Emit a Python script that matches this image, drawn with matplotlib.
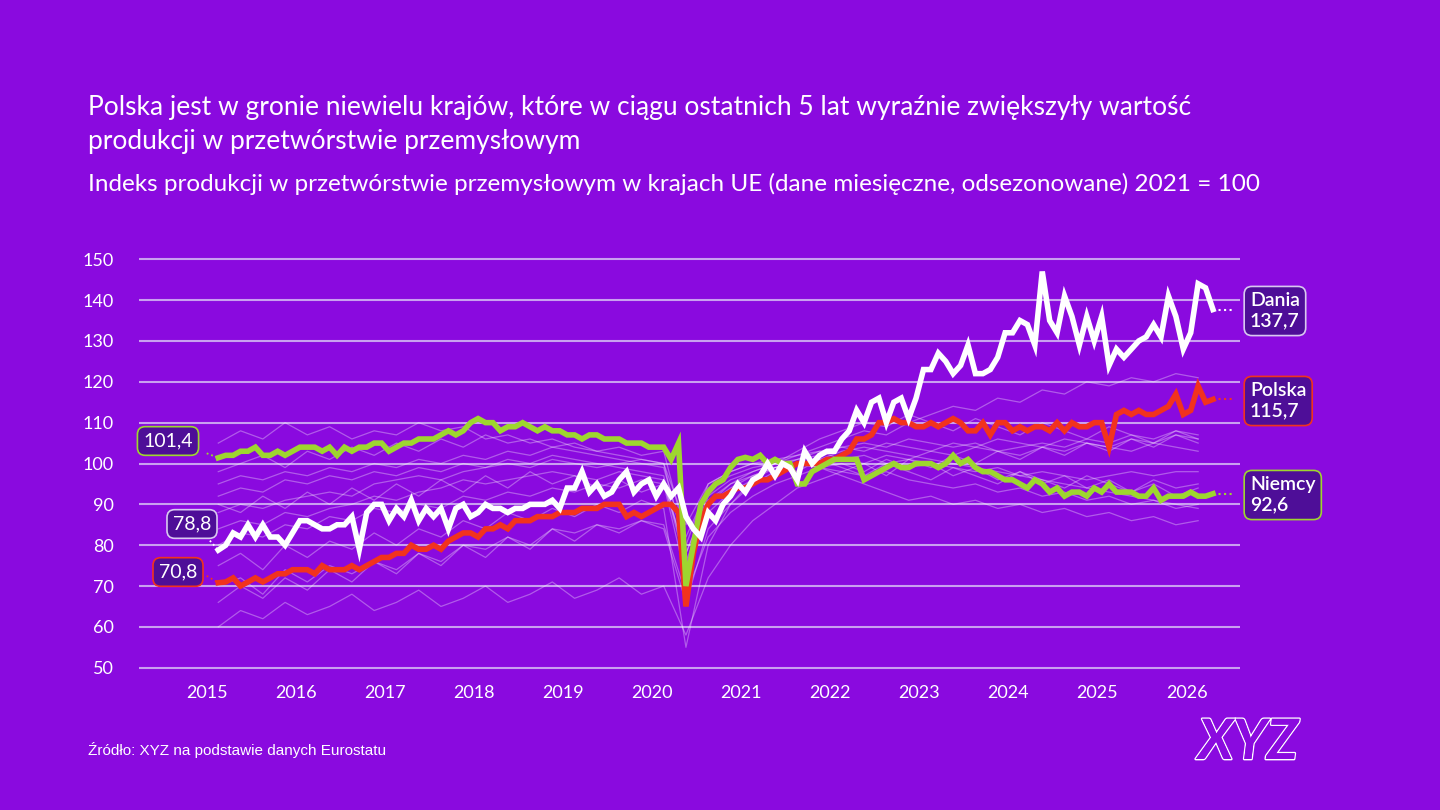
import numpy as np
import matplotlib.pyplot as plt
import matplotlib.patheffects as pe

plt.rcParams['font.family'] = ['Lato', 'DejaVu Sans']

BG = '#8A0ADF'
GRID = '#C9A0F0'
BOX = '#4E0E98'

# Monthly values, Jan 2015 - Mar 2026
dania = [78.8, 80, 83, 82, 85, 82, 85, 82, 82, 80, 83, 86,
         86, 85, 84, 84, 85, 85, 87, 79, 88, 90, 90, 86,
         89, 87, 91, 86, 89, 87, 89, 84, 89, 90, 87, 88,
         90, 89, 89, 88, 89, 89, 90, 90, 90, 91, 89, 94,
         94, 98, 93, 95, 92, 93, 96, 98, 93, 95, 96, 92,
         95, 92, 94, 87, 84, 82, 88, 86, 90, 92, 95, 93,
         96, 97, 100, 97, 100, 99, 96, 103, 100, 102, 103, 103,
         106, 108, 113, 110, 115, 116, 110, 115, 116, 111, 116, 123,
         123, 127, 125, 122, 124, 129, 122, 122, 123, 126, 132, 132,
         135, 134, 129, 147, 135, 132, 141, 136, 129, 136, 130, 136,
         124, 128, 126, 128, 130, 131, 134, 131, 141, 136, 128, 132,
         144, 143, 137.7]
polska = [70.8, 71, 72, 70, 71, 72, 71, 72, 73, 73, 74, 74,
          74, 73, 75, 74, 74, 74, 75, 74, 75, 76, 77, 77,
          78, 78, 80, 79, 79, 80, 79, 81, 82, 83, 83, 82,
          84, 84, 85, 84, 86, 86, 86, 87, 87, 87, 88, 88,
          88, 89, 89, 89, 90, 90, 90, 87, 88, 87, 88, 89,
          90, 90, 88, 65, 78, 86, 90, 92, 92, 93, 94, 94,
          95, 96, 96, 97, 98, 99, 100, 100, 100, 100, 101, 101,
          102, 103, 106, 106, 107, 110, 110, 111, 110, 110, 109, 109,
          110, 109, 110, 111, 110, 108, 108, 110, 107, 110, 110, 108,
          109, 108, 109, 109, 108, 110, 108, 110, 109, 109, 110, 110,
          104, 112, 113, 112, 113, 112, 112, 113, 114, 117, 112, 113,
          119, 115, 115.7]
niemcy = [101.4, 102, 102, 103, 103, 104, 102, 102, 103, 102, 103, 104,
          104, 104, 103, 104, 102, 104, 103, 104, 104, 105, 105, 103,
          104, 105, 105, 106, 106, 106, 107, 108, 107, 108, 110, 111,
          110, 110, 108, 109, 109, 110, 109, 108, 109, 108, 108, 107,
          107, 106, 107, 107, 106, 106, 106, 105, 105, 105, 104, 104,
          104, 101, 105, 70, 80, 90, 93, 95, 96, 99, 101, 101.5,
          101, 102, 100, 101, 100, 100, 95, 95, 98, 99, 100, 101,
          101, 101, 101, 96, 97, 98, 99, 100, 99, 99, 100, 100,
          100, 99, 100, 102, 100, 101, 99, 98, 98, 97, 96, 96,
          95, 94, 96, 95, 93, 94, 92, 93, 93, 92, 94, 93,
          95, 93, 93, 93, 92, 92, 94, 91, 92, 92, 92, 93,
          92, 92, 92.6]

# Other EU countries, quarterly (Q1 2015 - Q1 2026)
others = [
    [95, 97, 96, 98, 97, 99, 98, 100, 99, 101, 100, 102, 101, 103, 102, 104, 103, 102, 101, 100, 99, 80, 95, 98, 100, 101, 102, 103, 101, 102, 100, 101, 100, 99, 98, 99, 97, 98, 97, 96, 97, 98, 97, 98, 98],
    [88, 90, 89, 91, 92, 93, 92, 95, 96, 97, 96, 98, 99, 100, 99, 101, 100, 99, 100, 101, 100, 78, 92, 96, 98, 100, 101, 103, 104, 105, 104, 106, 105, 104, 105, 103, 104, 105, 104, 106, 105, 107, 106, 108, 107],
    [84, 86, 85, 88, 87, 89, 90, 92, 91, 93, 94, 96, 95, 96, 97, 98, 97, 96, 98, 97, 96, 75, 90, 95, 98, 100, 102, 104, 106, 108, 107, 110, 112, 114, 113, 116, 115, 118, 117, 120, 119, 121, 120, 122, 121],
    [105, 108, 106, 110, 107, 109, 106, 108, 107, 110, 108, 109, 106, 107, 105, 106, 104, 103, 102, 101, 100, 85, 95, 98, 100, 99, 100, 99, 98, 97, 98, 96, 95, 94, 95, 93, 94, 92, 93, 91, 92, 90, 91, 89, 90],
    [70, 72, 68, 74, 71, 75, 73, 76, 74, 78, 76, 80, 79, 82, 80, 84, 83, 85, 84, 86, 85, 68, 82, 88, 92, 95, 97, 99, 100, 98, 101, 99, 100, 97, 99, 96, 98, 95, 97, 94, 96, 93, 95, 92, 94],
    [60, 64, 62, 66, 63, 65, 68, 64, 66, 69, 65, 67, 70, 66, 68, 71, 67, 69, 72, 68, 70, 58, 72, 80, 86, 90, 94, 96, 98, 100, 97, 101, 99, 102, 100, 103, 101, 104, 102, 105, 103, 106, 104, 107, 105],
    [92, 94, 93, 96, 95, 97, 96, 98, 97, 99, 98, 100, 99, 101, 100, 102, 101, 100, 99, 98, 97, 76, 90, 94, 97, 99, 100, 101, 103, 104, 103, 102, 101, 100, 99, 98, 97, 96, 95, 94, 93, 92, 91, 90, 89],
    [80, 83, 82, 85, 84, 87, 86, 89, 88, 90, 89, 92, 91, 93, 92, 94, 93, 95, 94, 96, 95, 72, 88, 93, 96, 99, 101, 102, 104, 103, 105, 104, 103, 105, 104, 106, 105, 104, 106, 105, 104, 106, 105, 107, 106],
    [98, 100, 102, 99, 103, 101, 104, 102, 105, 103, 106, 104, 107, 105, 106, 104, 105, 103, 104, 102, 103, 82, 94, 97, 99, 100, 98, 101, 99, 97, 100, 98, 96, 99, 97, 95, 98, 96, 94, 97, 95, 93, 96, 94, 95],
    [75, 78, 74, 80, 77, 81, 79, 83, 80, 84, 82, 86, 84, 88, 86, 89, 87, 90, 88, 91, 89, 55, 80, 90, 96, 100, 103, 106, 108, 110, 109, 112, 110, 108, 111, 109, 107, 110, 108, 106, 109, 107, 105, 108, 106],
    [90, 88, 92, 89, 93, 90, 94, 91, 95, 92, 96, 93, 97, 94, 98, 95, 97, 94, 96, 93, 95, 78, 91, 95, 97, 99, 100, 99, 101, 100, 102, 101, 103, 102, 104, 103, 102, 104, 103, 105, 104, 103, 105, 104, 103],
    [66, 70, 67, 72, 69, 74, 71, 76, 73, 78, 75, 80, 77, 82, 79, 84, 81, 85, 83, 86, 84, 66, 84, 90, 95, 98, 100, 99, 97, 95, 93, 91, 92, 90, 91, 89, 90, 88, 89, 87, 88, 86, 87, 85, 86],
]

YEARS = list(range(2015, 2027))

months = 2015 + np.arange(len(dania)) / 12
quarters = 2015 + np.arange(len(others[0])) * 0.25

fig = plt.figure(figsize=(14.4, 8.1), dpi=100, facecolor=BG)
ax = fig.add_axes([139 / 1440, 1 - 671 / 810, (1240 - 139) / 1440, 415 / 810])
ax.set_facecolor(BG)

for s in others:
    ax.plot(quarters, s, color='white', lw=0.9, alpha=0.33, zorder=2)

ax.plot(months, polska, color='#F2321E', lw=4, zorder=4, solid_joinstyle='miter')
ax.plot(months, niemcy, color='#9ED62F', lw=4, zorder=5, solid_joinstyle='miter')
ax.plot(months, dania, color='white', lw=4, zorder=6, solid_joinstyle='miter')

ax.set_xlim(2014.11, 2026.47)
ax.set_ylim(49.2, 150.8)
ax.set_yticks(range(50, 151, 10))
ax.set_xticks([y - 0.13 for y in YEARS])
ax.set_xticklabels([str(y) for y in YEARS])
ax.yaxis.grid(True, color=GRID, lw=1.5, zorder=1)
ax.set_axisbelow(True)
for sp in ax.spines.values():
    sp.set_visible(False)
ax.tick_params(length=0, colors='white', labelsize=13)
ax.tick_params(axis='y', pad=18)
ax.tick_params(axis='x', pad=10)


def box(text, x, y, edge, ha='center', weight='normal'):
    fig.text(x / 1440, 1 - y / 810, text, color='white', fontsize=14, ha=ha, va='center',
             linespacing=1.25, zorder=10, fontweight=weight,
             bbox=dict(boxstyle='round,pad=0.3,rounding_size=0.4', fc=BOX, ec=edge, lw=1.2))


# start labels
box('101,4', 168, 441, '#9ED62F')
box('78,8', 192, 524, '#D8C8F0')
box('70,8', 178, 572, '#F2321E')
# end labels
box('Dania\n137,7', 1250, 311, '#D8C8F0', ha='left', weight='semibold')
box('Polska\n115,7', 1250, 401, '#F2321E', ha='left', weight='semibold')
box('Niemcy\n92,6', 1250, 495, '#9ED62F', ha='left', weight='semibold')

# dotted connectors
for vals, c in [(dania, 'white'), (polska, '#F2321E'), (niemcy, '#9ED62F')]:
    ax.plot([months[-1], 2026.4], [vals[-1], vals[-1]], ls=':', color=c, lw=1.5, zorder=3,
            clip_on=False)
for vals, c, y0 in [(niemcy, '#9ED62F', 102.5), (dania, 'white', 82), (polska, '#F2321E', 72.5)]:
    ax.plot([2014.87, 2015], [y0, vals[0]], ls=':', color=c, lw=1.3, zorder=3, clip_on=False)

fig.text(88 / 1440, 1 - 108 / 810,
         'Polska jest w gronie niewielu krajów, które w ciągu ostatnich 5 lat wyraźnie zwiększyły wartość',
         color='white', fontsize=19, va='center')
fig.text(88 / 1440, 1 - 141 / 810, 'produkcji w przetwórstwie przemysłowym',
         color='white', fontsize=19, va='center')
fig.text(88 / 1440, 1 - 184 / 810,
         'Indeks produkcji w przetwórstwie przemysłowym w krajach UE (dane miesięczne, odsezonowane) 2021 = 100',
         color='white', fontsize=17.5, va='center')
fig.text(88 / 1440, 1 - 750 / 810, 'Źródło: XYZ na podstawie danych Eurostatu',
         color='white', fontsize=11, va='center', family=['Liberation Sans', 'DejaVu Sans'])

logo = fig.text(1248 / 1440, 1 - 743 / 810, 'XYZ', color=BG, fontsize=40, ha='center', va='center',
                fontweight='bold', style='italic', fontstretch='expanded')
logo.set_path_effects([pe.withStroke(linewidth=2, foreground='white'), pe.Normal()])

fig.savefig('out.png', dpi=100, facecolor=BG)
